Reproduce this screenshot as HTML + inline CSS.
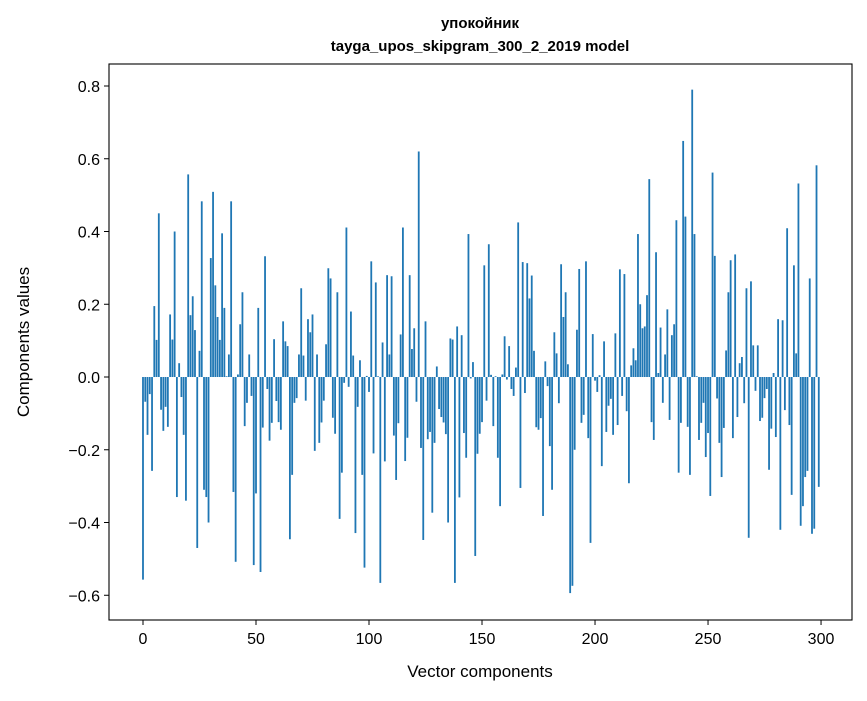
<!DOCTYPE html>
<html><head><meta charset="utf-8"><style>
body{margin:0;background:#fff;}
svg text{font-family:"Liberation Sans","DejaVu Sans",sans-serif;fill:#000;}
</style></head><body>
<svg id="chart" width="867" height="696" viewBox="0 0 867 696" xmlns="http://www.w3.org/2000/svg">
<rect width="867" height="696" fill="#fff"/>
<text x="480" y="28" text-anchor="middle" font-size="15" font-weight="bold">упокойник</text>
<text x="480" y="51" text-anchor="middle" font-size="15" font-weight="bold">tayga_upos_skipgram_300_2_2019 model</text>
<g id="bars"></g>
<g id="axes"></g>
<text x="480" y="677" text-anchor="middle" font-size="17">Vector components</text>
<text transform="translate(29,342) rotate(-90)" text-anchor="middle" font-size="17">Components values</text>
</svg>
<script>
const values = [-0.557,-0.068,-0.159,-0.047,-0.258,0.195,0.102,0.45,-0.09,-0.148,-0.082,-0.137,0.172,0.103,0.40,-0.33,0.038,-0.055,-0.159,-0.34,
0.557,0.17,0.222,0.129,-0.47,0.072,0.483,-0.31,-0.33,-0.40,0.327,0.509,0.252,0.165,0.102,0.395,0.19,0.002,0.062,0.483,
-0.316,-0.508,0.007,0.145,0.233,-0.135,-0.071,0.062,-0.052,-0.517,-0.32,0.19,-0.536,-0.139,0.332,-0.033,-0.175,-0.126,0.104,-0.066,
-0.124,-0.145,0.153,0.098,0.085,-0.446,-0.269,-0.071,-0.058,0.062,0.244,0.059,-0.065,0.159,0.123,0.172,-0.203,0.062,-0.181,-0.125,
-0.065,0.09,0.299,0.271,-0.112,-0.156,0.233,-0.39,-0.263,-0.016,0.411,-0.027,0.18,0.059,-0.429,-0.082,0.046,-0.269,-0.524,0.003,
-0.041,0.318,-0.21,0.26,0.002,-0.566,0.095,-0.232,0.28,0.062,0.277,-0.161,-0.283,-0.127,0.117,0.411,-0.231,-0.167,0.28,0.077,
0.134,-0.068,0.62,-0.195,-0.448,0.153,-0.171,-0.151,-0.373,-0.181,0.029,-0.088,-0.11,-0.125,-0.157,-0.40,0.106,0.103,-0.566,0.139,
-0.331,0.115,-0.154,-0.222,0.393,-0.004,0.041,-0.492,-0.211,-0.156,-0.124,0.307,-0.065,0.365,0.006,-0.135,0.002,-0.222,-0.355,0.007,
0.112,-0.007,0.085,-0.033,-0.052,0.026,0.425,-0.305,0.316,-0.044,0.313,0.216,0.279,0.072,-0.138,-0.145,-0.113,-0.382,0.043,-0.025,
-0.19,-0.31,0.123,0.065,-0.072,0.31,0.165,0.233,0.035,-0.594,-0.574,-0.2,0.13,0.297,-0.126,-0.104,0.318,-0.168,-0.456,0.118,
-0.01,-0.041,0.005,-0.245,0.098,-0.151,-0.079,-0.06,-0.159,0.12,-0.132,0.296,-0.052,0.283,-0.094,-0.292,0.032,0.079,0.046,0.393,
0.2,0.134,0.139,0.225,0.544,-0.124,-0.173,0.343,0.011,0.136,-0.071,0.062,0.186,-0.118,0.115,0.145,0.431,-0.263,-0.126,0.649,
0.441,-0.137,-0.269,0.79,0.393,0.002,-0.173,-0.126,-0.071,-0.22,-0.154,-0.327,0.562,0.333,-0.059,-0.181,-0.275,-0.14,0.073,0.233,
0.321,-0.168,0.337,-0.11,0.038,0.055,-0.072,0.244,-0.442,0.263,0.087,-0.038,0.087,-0.121,-0.112,-0.058,-0.033,-0.255,-0.142,0.011,
-0.165,0.159,-0.42,0.156,-0.091,0.409,-0.132,-0.324,0.307,0.065,0.532,-0.409,-0.355,-0.275,-0.258,0.271,-0.431,-0.417,0.582,-0.302];
const xTicks = [0,50,100,150,200,250,300];
const yTicks = [-0.6,-0.4,-0.2,0.0,0.2,0.4,0.6,0.8];

const L=109,R=852,T=64,B=620;
const xMin=-15.04,xMax=313.7,yMin=-0.668,yMax=0.8605;
const xs=v=>L+(v-xMin)/(xMax-xMin)*(R-L);
const ys=v=>T+(yMax-v)/(yMax-yMin)*(B-T);
const NS="http://www.w3.org/2000/svg";
const bars=document.getElementById('bars');
const bw=(xs(0.8)-xs(0));
values.forEach((v,i)=>{
  const r=document.createElementNS(NS,'rect');
  
  
  const y0=ys(0),y1=ys(v);
  r.setAttribute('x',xs(i)-bw/2);
  r.setAttribute('width',bw);
  r.setAttribute('y',Math.min(y0,y1));
  r.setAttribute('height',Math.max(Math.abs(y1-y0),0.3));
  r.setAttribute('fill','#1f77b4');
  bars.appendChild(r);
});
const ax=document.getElementById('axes');
const frame=document.createElementNS(NS,'rect');


frame.setAttribute('x',L);frame.setAttribute('y',T);
frame.setAttribute('width',R-L);frame.setAttribute('height',B-T);
frame.setAttribute('fill','none');frame.setAttribute('stroke','#000');frame.setAttribute('stroke-width','1.1');
ax.appendChild(frame);
xTicks.forEach(t=>{
  const x=xs(t);
  const l=document.createElementNS(NS,'line');
  
  
  l.setAttribute('x1',x);l.setAttribute('x2',x);l.setAttribute('y1',B);l.setAttribute('y2',B+5);
  l.setAttribute('stroke','#000');
  ax.appendChild(l);
  const tx=document.createElementNS(NS,'text');
  
  
  tx.setAttribute('x',x);tx.setAttribute('y',B+24);
  tx.setAttribute('text-anchor','middle');tx.setAttribute('font-size','16');
  tx.textContent=String(t);
  ax.appendChild(tx);
});
yTicks.forEach(t=>{
  const y=ys(t);
  const l=document.createElementNS(NS,'line');
  
  
  l.setAttribute('x1',L-5);l.setAttribute('x2',L);l.setAttribute('y1',y);l.setAttribute('y2',y);
  l.setAttribute('stroke','#000');
  ax.appendChild(l);
  const tx=document.createElementNS(NS,'text');
  
  
  tx.setAttribute('x',L-9);tx.setAttribute('y',y+6);
  tx.setAttribute('text-anchor','end');tx.setAttribute('font-size','16');
  tx.textContent=(t<0?'\u2212':'')+Math.abs(t).toFixed(1);
  ax.appendChild(tx);
});
</script>
</body></html>
